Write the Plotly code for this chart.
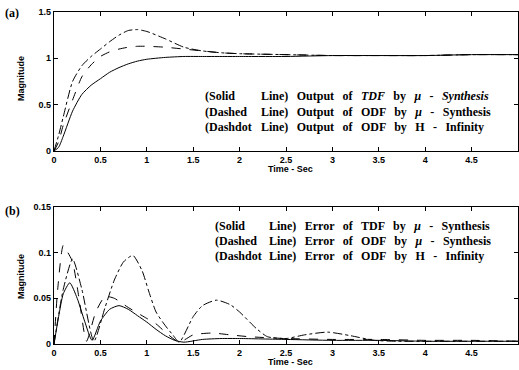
import plotly.graph_objects as go

# ---------------- data ----------------
t_out = [0, 0.05, 0.1, 0.2, 0.3, 0.4, 0.5, 0.6, 0.7, 0.8, 0.9, 1.0, 1.2, 1.4,
         1.6, 1.8, 2.0, 2.5, 3.0, 3.5, 4.0, 4.5, 5.0]
out_tdf_mu = [0, 0.04, 0.16, 0.43, 0.61, 0.71, 0.78, 0.85, 0.9, 0.94, 0.97, 0.99,
              1.01, 1.02, 1.02, 1.02, 1.02, 1.02, 1.03, 1.03, 1.03, 1.04, 1.04]
out_odf_mu = [0, 0.1, 0.28, 0.55, 0.8, 0.93, 1.02, 1.07, 1.1, 1.12, 1.13, 1.13,
              1.12, 1.1, 1.08, 1.06, 1.05, 1.04, 1.03, 1.03, 1.03, 1.04, 1.04]
out_odf_hinf = [0, 0.17, 0.37, 0.75, 0.92, 1.02, 1.1, 1.18, 1.25, 1.3, 1.31, 1.29,
                1.21, 1.12, 1.08, 1.06, 1.05, 1.04, 1.03, 1.03, 1.03, 1.04, 1.04]

t_err_tdf = [0, 0.05, 0.1, 0.17, 0.25, 0.33, 0.41, 0.5, 0.6, 0.7, 0.8, 0.9, 1.0,
             1.1, 1.2, 1.3, 1.4, 1.6, 1.8, 2.0, 2.5, 3.0, 3.5, 4.0, 4.5, 5.0]
err_tdf_mu = [0, 0.03, 0.055, 0.067, 0.05, 0.025, 0.004, 0.025, 0.038, 0.042,
              0.038, 0.031, 0.024, 0.016, 0.009, 0.004, 0.002, 0.005, 0.006,
              0.006, 0.005, 0.004, 0.004, 0.003, 0.003, 0.003]

t_err_odf = [0, 0.04, 0.1, 0.15, 0.2, 0.27, 0.35, 0.45, 0.55, 0.65, 0.8, 1.0,
             1.1, 1.2, 1.35, 1.5, 1.7, 1.9, 2.1, 2.5, 3.0, 3.5, 4.0, 4.5, 5.0]
err_odf_mu = [0, 0.06, 0.108, 0.1, 0.09, 0.05, 0.003, 0.035, 0.052, 0.05, 0.04,
              0.028, 0.022, 0.013, 0.002, 0.01, 0.012, 0.01, 0.008, 0.006,
              0.005, 0.005, 0.004, 0.004, 0.003]

t_err_hinf = [0, 0.1, 0.2, 0.3, 0.43, 0.55, 0.65, 0.75, 0.85, 0.95, 1.02, 1.1,
              1.2, 1.28, 1.35, 1.5, 1.6, 1.75, 1.9, 2.0, 2.18, 2.3, 2.5, 2.7,
              2.95, 3.2, 3.45, 3.7, 4.0, 4.5, 5.0]
err_odf_hinf = [0, 0.06, 0.093, 0.06, 0.003, 0.04, 0.07, 0.09, 0.097, 0.08,
                0.058, 0.035, 0.02, 0.01, 0.002, 0.03, 0.042, 0.048, 0.043,
                0.035, 0.017, 0.008, 0.006, 0.01, 0.013, 0.009, 0.004, 0.003,
                0.003, 0.003, 0.003]

x_ticks = [0, 0.5, 1, 1.5, 2, 2.5, 3, 3.5, 4, 4.5, 5]
x_tick_labels = ["0", "0.5", "1", "1.5", "2", "2.5", "3", "3.5", "4", "4.5", "5"]
ya_ticks = [0, 0.5, 1, 1.5]
ya_tick_labels = ["0", "0.5", "1", "1.5"]
yb_ticks = [0, 0.05, 0.1, 0.15]
yb_tick_labels = ["0", "0.05", "0.1", "0.15"]

legend_a = [("(Solid", "Line) Output of <i>TDF</i> by <i>μ</i> - <i>Synthesis</i>"),
            ("(Dashed", "Line) Output of ODF by <i>μ</i> - Synthesis"),
            ("(Dashdot", "Line) Output of ODF by H - Infinity")]
legend_b = [("(Solid", "Line) Error of TDF by <i>μ</i> - Synthesis"),
            ("(Dashed", "Line) Error of ODF by <i>μ</i> - Synthesis"),
            ("(Dashdot", "Line) Error of ODF by H - Infinity")]

# ---------------- figure ----------------
W, H = 519, 370
ML, MR, MT, MB = 54, 1, 12, 26
PW, PH = W - ML - MR, H - MT - MB


def px(x):
    return (x - ML) / PW


def py(y):
    return (H - MB - y) / PH


def widen(s):
    # wider word spacing, as in the reference
    return s.replace(" ", " \u00a0\u2009")


fig = go.Figure()
line_kw = dict(color="black", width=1.0)
spl = dict(shape="spline", smoothing=0.6)

fig.add_trace(go.Scatter(x=t_out, y=out_tdf_mu, mode="lines",
                         line=dict(**line_kw, dash="solid", **spl), xaxis="x", yaxis="y"))
fig.add_trace(go.Scatter(x=t_out, y=out_odf_mu, mode="lines",
                         line=dict(**line_kw, dash="dash", **spl), xaxis="x", yaxis="y"))
fig.add_trace(go.Scatter(x=t_out, y=out_odf_hinf, mode="lines",
                         line=dict(**line_kw, dash="dashdot", **spl), xaxis="x", yaxis="y"))

fig.add_trace(go.Scatter(x=t_err_tdf, y=err_tdf_mu, mode="lines",
                         line=dict(**line_kw, dash="solid", **spl), xaxis="x2", yaxis="y2"))
fig.add_trace(go.Scatter(x=t_err_odf, y=err_odf_mu, mode="lines",
                         line=dict(**line_kw, dash="dash", **spl), xaxis="x2", yaxis="y2"))
fig.add_trace(go.Scatter(x=t_err_hinf, y=err_odf_hinf, mode="lines",
                         line=dict(**line_kw, dash="dashdot", **spl), xaxis="x2", yaxis="y2"))

tickfont = dict(family="Liberation Sans", size=9, color="black", weight="bold")
ax_common = dict(showline=True, linecolor="black", linewidth=1.3, mirror="ticks",
                 ticks="inside", ticklen=4, tickcolor="black", tickwidth=1,
                 showgrid=False, zeroline=False, tickfont=tickfont, automargin=False)

top_dom = [py(151), 1]
bot_dom = [0, py(207)]

fig.update_layout(
    width=W, height=H,
    margin=dict(l=ML, r=MR, t=MT, b=MB, autoexpand=False),
    paper_bgcolor="white", plot_bgcolor="white",
    showlegend=False,
    xaxis=dict(domain=[0, 1], range=[0, 5], anchor="y", tickvals=x_ticks,
               ticktext=x_tick_labels, **ax_common),
    yaxis=dict(domain=top_dom, range=[0, 1.5], anchor="x", tickvals=ya_ticks,
               ticktext=ya_tick_labels, **ax_common),
    xaxis2=dict(domain=[0, 1], range=[0, 5], anchor="y2", tickvals=x_ticks,
                ticktext=x_tick_labels, **ax_common),
    yaxis2=dict(domain=bot_dom, range=[0, 0.15], anchor="x2", tickvals=yb_ticks,
                ticktext=yb_tick_labels, **ax_common),
)

ann = []
sans = dict(family="Liberation Sans", size=9, color="black", weight="bold")
serif = dict(family="Liberation Serif", size=12, color="black", weight="bold")

# panel labels
for lab, yy in (("(a)", 13), ("(b)", 211)):
    ann.append(dict(x=px(3), y=py(yy), xref="paper", yref="paper", text=lab,
                    showarrow=False, xanchor="left", yanchor="middle",
                    font=dict(family="Liberation Serif", size=12, color="black",
                              weight="bold")))
# axis titles
for yy in (79, 277):
    ann.append(dict(x=px(21), y=py(yy), xref="paper", yref="paper", text="Magnitude",
                    showarrow=False, textangle=-90, xanchor="center", yanchor="middle",
                    font=sans))
for yy in (169, 362):
    ann.append(dict(x=px(290), y=py(yy), xref="paper", yref="paper", text="Time - Sec",
                    showarrow=False, xanchor="center", yanchor="middle", font=sans))
# in-plot legends
for (a, b), yy in zip(legend_a, (96, 112, 127)):
    ann.append(dict(x=px(203), y=py(yy), xref="paper", yref="paper", text=a,
                    showarrow=False, xanchor="left", yanchor="middle", font=serif))
    ann.append(dict(x=px(259), y=py(yy), xref="paper", yref="paper", text=widen(b),
                    showarrow=False, xanchor="left", yanchor="middle", font=serif))
for (a, b), yy in zip(legend_b, (226, 241, 256)):
    ann.append(dict(x=px(213), y=py(yy), xref="paper", yref="paper", text=a,
                    showarrow=False, xanchor="left", yanchor="middle", font=serif))
    ann.append(dict(x=px(267), y=py(yy), xref="paper", yref="paper", text=widen(b),
                    showarrow=False, xanchor="left", yanchor="middle", font=serif))

fig.update_layout(annotations=ann)
fig.write_html(
    "out.html",
    config={"displayModeBar": False},
    post_script="document.body.style.margin='0';document.body.style.overflow='hidden';",
)
